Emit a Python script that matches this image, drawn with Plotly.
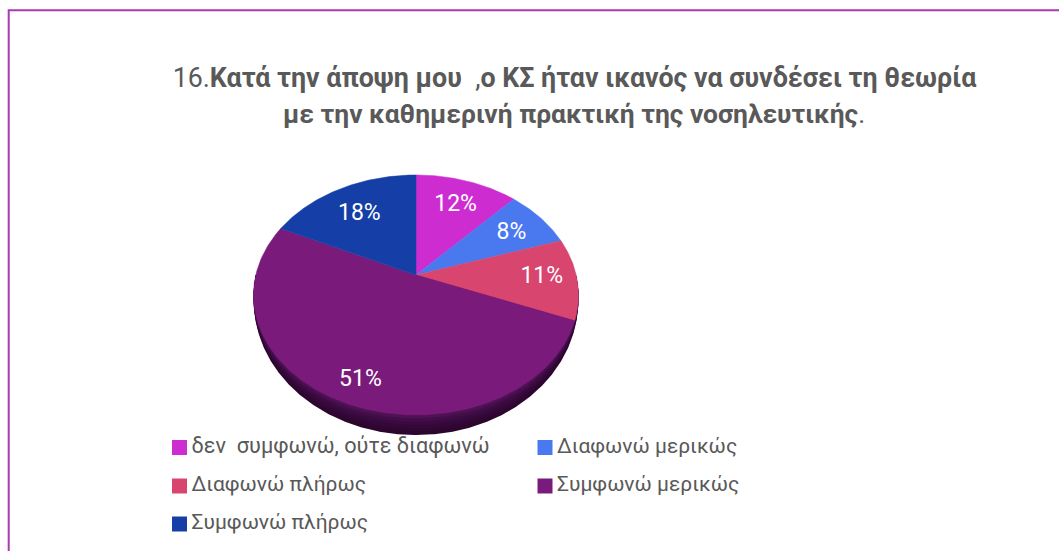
import numpy as np
import plotly.graph_objects as go

W, H = 1059, 551

categories = ["δεν  συμφωνώ, ούτε διαφωνώ", "Διαφωνώ μερικώς", "Διαφωνώ πλήρως",
              "Συμφωνώ μερικώς", "Συμφωνώ πλήρως"]
shares = [12, 8, 11, 51, 18]
slice_colors = ["#CD2DD0", "#4A78EE", "#D8456F", "#7A1B7B", "#153FA6"]

title_line1 = "16.<b>Κατά την άποψη μου </b> ,<b>ο ΚΣ ήταν ικανός να συνδέσει τη θεωρία</b>"
title_line2 = "<b>με την καθημερινή πρακτική της νοσηλευτικής</b>."

# Tilted-disc projection of the pie, in pixels
CX, CY = 416, 275
RX, RY = 160.2, 116.7
TILT = 1 / 6
DEPTH = 20
LABEL_RADIUS = 0.77
label_nudge_x = [-1, -2, 2, 0, 3]
label_nudge_y = [5, 3, -1, 12, 8]
wall_shades = ["#4E1253", "#430D49", "#3A0A40", "#340838", "#300733", "#2C062E"]


def project(turn, radius=1.0):
    """Map a clockwise turn from twelve o'clock (0..1) on to the tilted disc."""
    angle = 2 * np.pi * np.asarray(turn)
    u, v = radius * np.sin(angle), -radius * np.cos(angle)
    scale = 1 - TILT * v
    return CX + RX * u / scale, CY + RY * v / scale, v


fig = go.Figure()

# Front wall, built from rim bands that thicken towards the viewer
rim = np.linspace(0.25, 0.75, 361)
rx, ry, rv = project(rim)
for i, shade in reversed(list(enumerate(wall_shades))):
    depth = DEPTH * (i + 1) / len(wall_shades) * rv ** 0.9
    fig.add_trace(go.Scatter(x=rx, y=ry + depth, mode="lines", fill="toself", fillcolor=shade,
                             line=dict(width=0), hoverinfo="skip", showlegend=False))

# Slices
total = sum(shares)
edges = np.cumsum([0] + shares) / total
for name, a, b, color in zip(categories, edges[:-1], edges[1:], slice_colors):
    turns = np.linspace(a, b, max(int((b - a) * 720), 8))
    px, py, _ = project(turns)
    fig.add_trace(go.Scatter(x=np.r_[CX, px, CX], y=np.r_[CY, py, CY], mode="lines",
                             fill="toself", fillcolor=color, line=dict(width=0.5, color=color),
                             name=name, showlegend=False))

# Value labels at each slice's mid-angle
mids = (edges[:-1] + edges[1:]) / 2
lx, ly, _ = project(mids, LABEL_RADIUS)
fig.add_trace(go.Scatter(x=lx + np.array(label_nudge_x), y=ly + np.array(label_nudge_y), mode="text",
                         text=[f"{s}%" for s in shares],
                         textfont=dict(family="Roboto", size=23, color="#FFFFFF"),
                         hoverinfo="skip", showlegend=False))

# Key beneath the pie: two columns, three rows
key_x = [179.5, 545, 179.5, 545, 179.5]
key_y = [447.5, 447.5, 486, 486, 524]
key_font = [21.7, 21, 21, 21, 21]
for name, color, x, y, size in zip(categories, slice_colors, key_x, key_y, key_font):
    fig.add_trace(go.Scatter(x=[x], y=[y], mode="markers",
                             marker=dict(symbol="square", size=15, color=color, line=dict(width=0)),
                             hoverinfo="skip", showlegend=False))
    fig.add_trace(go.Scatter(x=[x + 12], y=[y], mode="text", text=[name],
                             textposition="middle right",
                             textfont=dict(family="Roboto", size=size, color="#595959"),
                             hoverinfo="skip", showlegend=False))

fig.update_layout(
    width=W, height=H, autosize=False,
    margin=dict(l=0, r=0, t=0, b=0),
    paper_bgcolor="#FFFFFF", plot_bgcolor="#FFFFFF",
    title=dict(text=title_line1, x=574.5 / W, xanchor="center", y=1 - 78 / H, yanchor="middle",
               font=dict(family="Roboto", size=26.8, color="#595959")),
    annotations=[dict(text=title_line2, xref="x", yref="y", x=574, y=114, xanchor="center",
                      yanchor="middle", showarrow=False,
                      font=dict(family="Roboto", size=26.4, color="#595959"))],
    xaxis=dict(range=[0, W], visible=False, fixedrange=True),
    yaxis=dict(range=[H, 0], visible=False, fixedrange=True),
    showlegend=False,
    shapes=[dict(type="rect", xref="x", yref="y", x0=8.7, y0=10.3, x1=W + 5, y1=H + 5,
                 line=dict(color="#A93AB3", width=2), fillcolor="rgba(0,0,0,0)", layer="above")],
)

fig.write_html("out.html", config=dict(displayModeBar=False))
